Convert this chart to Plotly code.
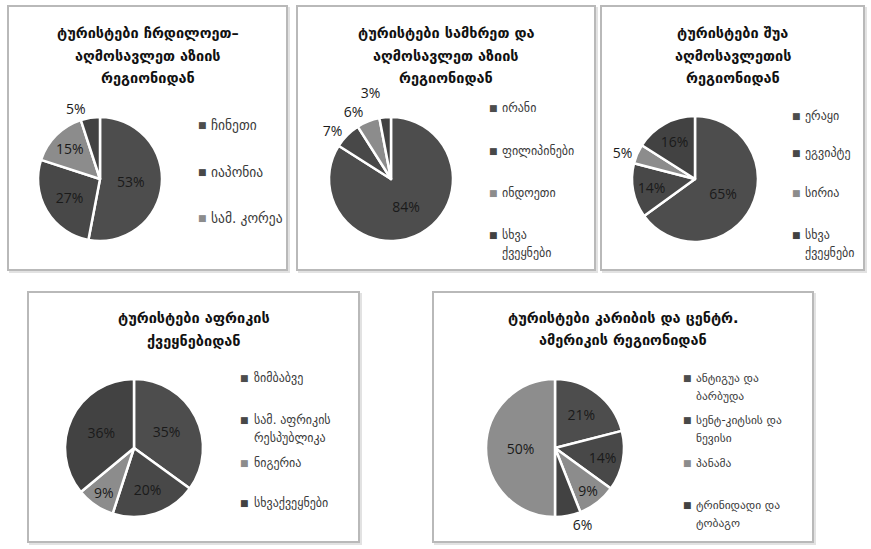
import textwrap
import plotly.graph_objects as go

W, H = 871, 549

# ---------------- data ----------------
title_ne_asia = ["ტურისტები ჩრდილოეთ–", "აღმოსავლეთ აზიის", "რეგიონიდან"]
labels_ne_asia = ["ჩინეთი", "იაპონია", "სამ. კორეა", "სხვა ქვეყნები"]
values_ne_asia = [53, 27, 15, 5]

title_se_asia = ["ტურისტები სამხრეთ და", "აღმოსავლეთ აზიის", "რეგიონიდან"]
labels_se_asia = ["ირანი", "ფილიპინები", "ინდოეთი", "სხვა ქვეყნები"]
values_se_asia = [84, 7, 6, 3]

title_mid_east = ["ტურისტები შუა", "აღმოსავლეთის", "რეგიონიდან"]
labels_mid_east = ["ერაყი", "ეგვიპტე", "სირია", "სხვა ქვეყნები"]
values_mid_east = [65, 14, 5, 16]

title_africa = ["ტურისტები აფრიკის", "ქვეყნებიდან"]
labels_africa = ["ზიმბაბვე", "სამ. აფრიკის რესპუბლიკა", "ნიგერია", "სხვაქვეყნები"]
values_africa = [35, 20, 9, 36]

title_caribbean = ["ტურისტები კარიბის და ცენტრ.", "ამერიკის რეგიონიდან"]
labels_caribbean = ["ანტიგუა და ბარბუდა", "სენტ-კიტსის და ნევისი", "პანამა",
                    "ტრინიდადი და ტობაგო", "სხვა ქვეყნები"]
values_caribbean = [21, 14, 9, 6, 50]

# ---------------- styling / layout ----------------
slice_colors = ["#4d4d4d", "#484848", "#8c8c8c", "#424242", "#8d8d8d"]
GEO_FONT = "DejaVu Sans"

panels = [
    dict(title=title_ne_asia, labels=labels_ne_asia, values=values_ne_asia,
         box=(8, 6, 287, 270), center=(100, 179), r=62,
         title_y=[33, 56, 78], leg_x=202, leg_y=[125, 172, 218], wrap=14, n_leg=3, leg_size=13.5),
    dict(title=title_se_asia, labels=labels_se_asia, values=values_se_asia,
         box=(297, 6, 595, 270), center=(391, 179), r=62,
         title_y=[33, 56, 78], leg_x=493, leg_y=[108, 151, 193, 235], wrap=10, n_leg=4, leg_size=12),
    dict(title=title_mid_east, labels=labels_mid_east, values=values_mid_east,
         box=(601, 6, 864, 270), center=(695, 179), r=63,
         title_y=[33, 56, 78], leg_x=796, leg_y=[116, 153, 193, 235], wrap=10, n_leg=4, leg_size=12),
    dict(title=title_africa, labels=labels_africa, values=values_africa,
         box=(28, 292, 359, 542), center=(134, 448), r=69,
         title_y=[318, 341], leg_x=245, leg_y=[378, 420, 463, 503], wrap=14, n_leg=4, leg_size=12),
    dict(title=title_caribbean, labels=labels_caribbean, values=values_caribbean,
         box=(433, 292, 813, 542), center=(555, 448), r=69,
         title_y=[318, 340], leg_x=687, leg_y=[378, 420, 463, 505], wrap=14, n_leg=4, leg_size=11.5),
]


def px(x):
    return x / W


def py(y):
    return 1 - y / H


fig = go.Figure()
shapes = []
annotations = []

for p in panels:
    x0, y0, x1, y1 = p["box"]
    # panel frame with a faint shadow
    shapes.append(dict(type="rect", xref="paper", yref="paper",
                       x0=px(x0 + 2), x1=px(x1 + 2), y0=py(y1 + 2), y1=py(y0 + 2),
                       line=dict(color="#e2e2e2", width=2), fillcolor="rgba(0,0,0,0)", layer="below"))
    shapes.append(dict(type="rect", xref="paper", yref="paper",
                       x0=px(x0), x1=px(x1), y0=py(y1), y1=py(y0),
                       line=dict(color="#b9b9b9", width=2), fillcolor="white", layer="below"))

    cx, cy = p["center"]
    r = p["r"]
    n = len(p["values"])
    colors = slice_colors[:n]
    positions = ["outside" if v < 8 else "inside" for v in p["values"]]
    fig.add_trace(go.Pie(
        labels=p["labels"], values=p["values"],
        domain=dict(x=[px(cx - r), px(cx + r)], y=[py(cy + r), py(cy - r)]),
        sort=False, direction="clockwise", rotation=0,
        marker=dict(colors=colors, line=dict(color="white", width=2.5)),
        texttemplate="%{value}%", textposition=positions,
        insidetextorientation="horizontal",
        textfont=dict(family="Open Sans", size=14, color="#1a1a1a"),
        hoverinfo="label+value", showlegend=False,
    ))

    # title
    tcx = (x0 + x1) / 2
    for line, ty in zip(p["title"], p["title_y"]):
        annotations.append(dict(xref="paper", yref="paper", x=px(tcx), y=py(ty),
                                xanchor="center", yanchor="middle", showarrow=False,
                                text="<b>" + line + "</b>",
                                font=dict(family=GEO_FONT, size=14.5, color="#111111")))

    # legend (first n_leg entries, like the truncated original)
    for i in range(p["n_leg"]):
        ly = p["leg_y"][i]
        annotations.append(dict(xref="paper", yref="paper", x=px(p["leg_x"]), y=py(ly),
                                xanchor="center", yanchor="middle", showarrow=False,
                                text="■", font=dict(family=GEO_FONT, size=9, color=colors[i])))
        lines = textwrap.wrap(p["labels"][i], p["wrap"], break_on_hyphens=False)
        for j, ln in enumerate(lines):
            annotations.append(dict(xref="paper", yref="paper", x=px(p["leg_x"] + 7), y=py(ly + 18 * j),
                                    xanchor="left", yanchor="middle", showarrow=False,
                                    text=ln, font=dict(family=GEO_FONT, size=p["leg_size"], color="#3a3a3a")))

fig.update_layout(
    width=W, height=H,
    margin=dict(l=0, r=0, t=0, b=0),
    paper_bgcolor="white", plot_bgcolor="white",
    shapes=shapes, annotations=annotations,
    showlegend=False,
)

page_css = ("var s=document.createElement('style');"
            "s.innerHTML='body{margin:0;overflow:hidden} path.textline{display:none}';"
            "document.head.appendChild(s);")

fig.write_html("out.html", post_script=page_css, config={"displayModeBar": False})
